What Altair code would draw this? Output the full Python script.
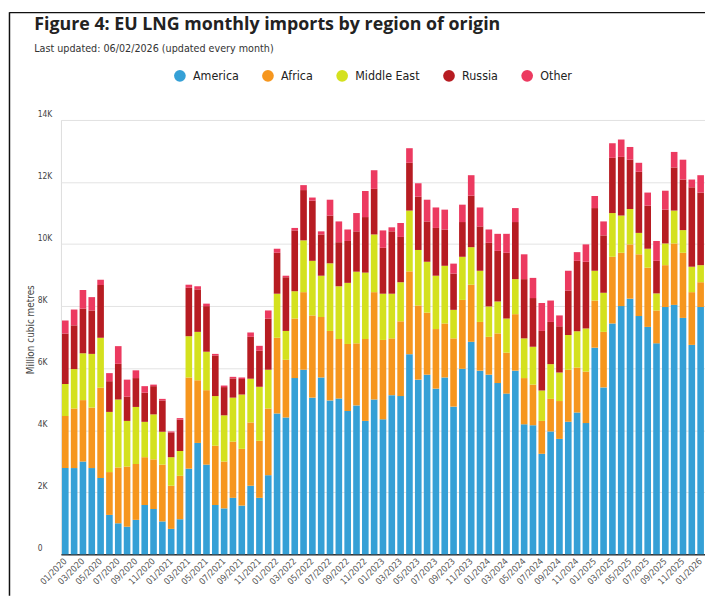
import altair as alt
import pandas as pd

# ---- data (million cubic metres) ----
months = [f"{m:02d}/{y}" for y in range(2020, 2027) for m in range(1, 13)][:73]
regions = ["America", "Africa", "Middle East", "Russia", "Other"]
colors = ["#35A0D6", "#F6961E", "#D4E11E", "#B71C22", "#EC3A60"]

america = [2780, 2780, 2990, 2780, 2460, 1270, 1000, 890, 1110, 1590, 1460, 1060,
           820, 1130, 2760, 3590, 2890, 1590, 1480, 1820, 1570, 2210, 1820, 2550,
           4540, 4410, 5680, 5950, 5050, 5700, 4960, 5020, 4620, 4800, 4300, 4990,
           4350, 5130, 5100, 6450, 5630, 5790, 5340, 5700, 4760, 5980, 6850, 5920,
           5790, 5520, 5180, 5920, 4190, 4160, 3240, 3960, 3720, 4270, 4570, 4230,
           6660, 5380, 7440, 8000, 8240, 7680, 7330, 6800, 7970, 8040, 7620, 6750,
           7970]
africa = [1680, 1920, 1980, 1950, 2910, 1380, 1800, 1940, 1800, 1540, 1600, 1830,
          1390, 1400, 2940, 2020, 2400, 1910, 1510, 1810, 1830, 2040, 1840, 2150,
          2440, 1860, 1920, 2500, 2650, 1950, 2240, 1920, 2160, 2000, 2640, 3460,
          2560, 1830, 2410, 2670, 2390, 2000, 1920, 1740, 2200, 2220, 1840, 1570,
          1220, 1600, 1320, 1820, 1490, 1310, 1060, 1050, 1220, 1680, 1450, 1660,
          1520, 1790, 2150, 1720, 1750, 1990, 1910, 1060, 1350, 1980, 2100, 1700,
          800]
middle_east = [1030, 1270, 1510, 1730, 1610, 1940, 2190, 1470, 1840, 1140, 1450, 1060,
               920, 800, 1330, 1560, 1240, 1600, 1490, 1420, 1750, 1410, 1740, 1250,
               1420, 930, 880, 1670, 1760, 1330, 2180, 1700, 1970, 2310, 2140, 1860,
               1490, 1440, 1260, 1960, 1790, 1640, 1720, 1860, 920, 1390, 1210, 1650,
               980, 1030, 1100, 1130, 1280, 1220, 980, 1120, 920, 1120, 1170, 1390,
               960, 1260, 1410, 1200, 1140, 690, 610, 550, 700, 1060, 730, 820,
               550]
russia = [1630, 1410, 1440, 1400, 1700, 990, 1150, 780, 930, 940, 910, 1010,
          800, 1010, 1560, 1370, 1470, 1310, 910, 620, 500, 1350, 1160, 1650,
          1320, 1730, 1960, 1620, 1940, 1330, 1540, 1420, 1350, 1300, 1790, 1470,
          1480, 2010, 1460, 1540, 1720, 1300, 1540, 1170, 1170, 1120, 1660, 1430,
          2050, 1630, 2120, 1840, 1910, 1570, 1920, 1360, 1490, 1430, 2270, 2150,
          2020, 1850, 1780, 1890, 1590, 1970, 1390, 1050, 1090, 1390, 1630, 2560,
          2340]
other = [420, 510, 600, 430, 170, 260, 570, 550, 250, 210, 50, 50,
         30, 50, 100, 100, 80, 50, 50, 50, 50, 140, 160, 260,
         130, 50, 80, 160, 100, 100, 510, 670, 370, 590, 840, 600,
         560, 130, 450, 470, 430, 700, 660, 640, 320, 560, 660, 610,
         430, 550, 610, 450, 800, 650, 900, 690, 350, 640, 280, 560,
         390, 450, 470, 560, 410, 290, 420, 640, 610, 500, 640, 250,
         560]

tick_labels = months[::2]
y_ticks = [0, 2000, 4000, 6000, 8000, 10000, 12000, 14000]

series = [america, africa, middle_east, russia, other]
rows = []
for i, mo in enumerate(months):
    for k, (r, s) in enumerate(zip(regions, series)):
        rows.append({"month": mo, "region": r, "value": s[i], "order": k})
df = pd.DataFrame(rows)

NARROW = "'Liberation Sans Narrow', 'DejaVu Sans Condensed', 'Roboto', sans-serif"
W, H = 651, 439
PL, PT, PB = 53.5, 110, 42

bars = alt.Chart(df).mark_bar().encode(
    x=alt.X("month:N", sort=months,
            scale=alt.Scale(paddingInner=0.25, paddingOuter=0.12),
            axis=alt.Axis(values=tick_labels, labelAngle=315, labelAlign="right",
                          labelBaseline="middle", ticks=False, domainColor="#333333",
                          domainWidth=1.5, labelFont=NARROW, labelFontSize=9,
                          labelColor="#555555", labelPadding=5, title=None, grid=False)),
    y=alt.Y("value:Q", stack="zero",
            scale=alt.Scale(domain=[0, 14000], nice=False),
            axis=alt.Axis(values=y_ticks, domain=False, ticks=False, tickSize=0,
                          labelExpr="datum.value == 0 ? '0' : (datum.value / 1000) + 'K'",
                          labelAlign="left", labelBaseline="bottom", labelPadding=24,
                          labelOffset=-2, labelFont=NARROW, labelFontSize=8.5,
                          labelColor="#444444", gridColor="#e3e3e3", gridWidth=1,
                          title="Million cubic metres", titleFont=NARROW,
                          titleFontSize=10, titleFontWeight="normal", titleColor="#444444",
                          titleAngle=270, titleX=-31, titleY=H / 2 - 8,
                          titleAlign="center", titleBaseline="middle")),
    color=alt.Color("region:N",
                    scale=alt.Scale(domain=regions, range=colors),
                    legend=alt.Legend(orient="none", legendX=114, legendY=-51,
                                      direction="horizontal", title=None,
                                      symbolType="circle", symbolSize=140,
                                      symbolStrokeWidth=0, symbolOpacity=1,
                                      labelFont=NARROW, labelFontSize=12.5,
                                      labelColor="#222222", columnPadding=23,
                                      labelOffset=7)),
    order=alt.Order("order:Q", sort="ascending"),
)

frame_df = pd.DataFrame({"a": [0]})
frame_v = alt.Chart(frame_df).mark_rule(color="#111111", strokeWidth=1.5).encode(
    x=alt.value(-52), y=alt.value(-109), y2=alt.value(H + PB))
frame_h = alt.Chart(frame_df).mark_rule(color="#111111", strokeWidth=1.5).encode(
    x=alt.value(-52), x2=alt.value(W), y=alt.value(-108.5))

chart = alt.layer(frame_v, frame_h, bars).properties(
    width=W, height=H,
    autosize=alt.AutoSizeParams(type="none"),
    padding={"left": PL, "top": PT, "right": 0, "bottom": PB},
    title=alt.TitleParams(
        text="Figure 4: EU LNG monthly imports by region of origin",
        subtitle="Last updated: 06/02/2026 (updated every month)",
        anchor="start", frame="group", dx=-27, offset=-43,
        font="Open Sans", fontSize=18, fontWeight="bold", color="#222222",
        subtitleFont=NARROW, subtitleFontSize=10.8, subtitleColor="#333333",
        subtitlePadding=9),
).configure_view(strokeWidth=0).configure(background="white")

chart.save("out.html", embed_options={"renderer": "svg", "actions": False})
